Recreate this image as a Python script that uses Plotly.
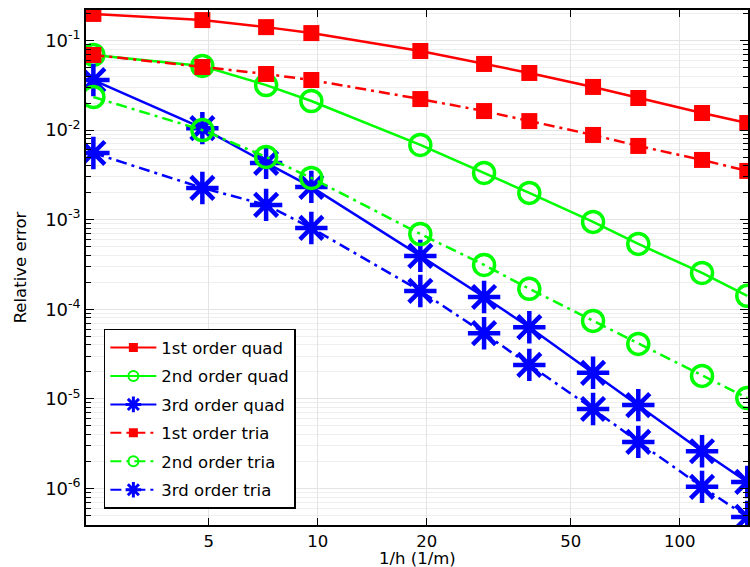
import numpy as np
import plotly.graph_objects as go

# data
h_inv = [2.4, 4.8, 7.2, 9.6, 19.2, 28.8, 38.4, 57.6, 76.8, 115.2, 153.6]
quad1 = [0.198, 0.169, 0.141, 0.121, 0.0763, 0.0547, 0.0434, 0.0303, 0.0228, 0.0155, 0.0120]
quad2 = [0.069, 0.052, 0.0318, 0.0211, 0.00682, 0.00332, 0.00199, 0.000944, 0.000536, 0.000254, 0.000141]
quad3 = [0.0362, 0.0105, 0.0043, 0.00232, 0.000394, 0.000137, 6.3e-5, 1.95e-5, 8.5e-6, 2.6e-6, 1.18e-6]
tria1 = [0.0689, 0.0506, 0.0423, 0.0362, 0.0222, 0.0163, 0.0126, 0.00882, 0.00665, 0.00464, 0.00350]
tria2 = [0.0234, 0.0100, 0.00501, 0.00292, 0.000692, 0.000312, 0.000169, 7.4e-5, 4.1e-5, 1.8e-5, 1.02e-5]
tria3 = [0.00555, 0.00226, 0.00146, 0.000808, 0.00016, 5.4e-5, 2.39e-5, 7.7e-6, 3.3e-6, 1.04e-6, 4.8e-7]

names = ["1st order quad", "2nd order quad", "3rd order quad",
         "1st order tria", "2nd order tria", "3rd order tria"]
x_ticks = [5, 10, 20, 50, 100]
y_ticks = [1e-6, 1e-5, 1e-4, 1e-3, 1e-2, 1e-1]
y_ticktext = ["10<sup>-6</sup>", "10<sup>-5</sup>", "10<sup>-4</sup>",
              "10<sup>-3</sup>", "10<sup>-2</sup>", "10<sup>-1</sup>"]
x_title = "1/h (1/m)"
y_title = "Relative error"

RED, GREEN, BLUE = "#FF0000", "#00FF00", "#0000FF"
DASHDOT = "11px,5px,3px,5px"

series = [
    (quad1, names[0], RED, "solid", dict(symbol="square", size=16, color=RED)),
    (quad2, names[1], GREEN, "solid", dict(symbol="circle-open", size=21, color=GREEN, line=dict(width=3.5, color=GREEN))),
    (quad3, names[2], BLUE, "solid", dict(symbol="asterisk-open", size=27, color=BLUE, line=dict(width=4.5, color=BLUE))),
    (tria1, names[3], RED, DASHDOT, dict(symbol="square", size=16, color=RED)),
    (tria2, names[4], GREEN, DASHDOT, dict(symbol="circle-open", size=21, color=GREEN, line=dict(width=3.5, color=GREEN))),
    (tria3, names[5], BLUE, DASHDOT, dict(symbol="asterisk-open", size=27, color=BLUE, line=dict(width=4.5, color=BLUE))),
]
legend_markers = [
    dict(symbol="square", size=9, color=RED),
    dict(symbol="circle-open", size=10, color=GREEN, line=dict(width=2, color=GREEN)),
    dict(symbol="asterisk-open", size=13, color=BLUE, line=dict(width=3, color=BLUE)),
    dict(symbol="square", size=9, color=RED),
    dict(symbol="circle-open", size=10, color=GREEN, line=dict(width=2, color=GREEN)),
    dict(symbol="asterisk-open", size=13, color=BLUE, line=dict(width=3, color=BLUE)),
]

fig = go.Figure()
for (ys, nm, col, dash, mk) in series:
    fig.add_trace(go.Scatter(x=h_inv, y=ys, mode="lines+markers", name=nm,
                             line=dict(color=col, width=2.5, dash=dash),
                             marker=mk, showlegend=False))
for i, (ys, nm, col, dash, mk) in enumerate(series):
    fig.add_trace(go.Scatter(x=[None], y=[None], mode="lines+markers", name=nm,
                             line=dict(color=col, width=2, dash=dash),
                             marker=legend_markers[i], legendgroup=f"g{i}"))

fig.update_layout(
    width=750, height=567,
    margin=dict(l=86, r=0, t=10, b=42),
    paper_bgcolor="white", plot_bgcolor="white",
    font=dict(family="DejaVu Sans", size=16.5, color="black"),
    showlegend=True,
    legend=dict(x=0.027, y=0.381, xanchor="left", yanchor="top",
                bgcolor="white", bordercolor="black", borderwidth=1.5,
                font=dict(size=16.5), tracegroupgap=4, itemwidth=46),
    annotations=[dict(text=x_title, xref="paper", yref="paper", x=0.5, y=-0.0641,
                      xanchor="center", yanchor="middle", showarrow=False,
                      font=dict(size=16.5))],
)
fig.update_xaxes(
    type="log", range=[np.log10(2.29), np.log10(153.6) + 0.002],
    tickvals=x_ticks, ticktext=[str(v) for v in x_ticks],
    ticks="inside", ticklen=7, tickwidth=1.2, tickcolor="black",
    showline=True, linecolor="black", linewidth=1.5, mirror="ticks",
    showgrid=True, gridcolor="#e4e4e4", gridwidth=1,
    zeroline=False,
    tickfont=dict(size=16.5),
)
fig.update_yaxes(
    type="log", range=[np.log10(3.9e-7), np.log10(0.219)],
    tickvals=y_ticks, ticktext=y_ticktext,
    ticks="inside", ticklen=8, tickwidth=1.2, tickcolor="black",
    showline=True, linecolor="black", linewidth=1.5, mirror="ticks",
    showgrid=True, gridcolor="#e4e4e4", gridwidth=1,
    minor=dict(ticks="inside", ticklen=5, tickcolor="black", dtick="D1",
               showgrid=True, gridcolor="#eeeeee", gridwidth=1),
    zeroline=False,
    title=dict(text=y_title, standoff=14, font=dict(size=16.5)),
    tickfont=dict(size=18),
)

fig.write_html("out.html", config={"displayModeBar": False},
               post_script="document.body.style.margin='0';document.body.style.overflow='hidden';")
